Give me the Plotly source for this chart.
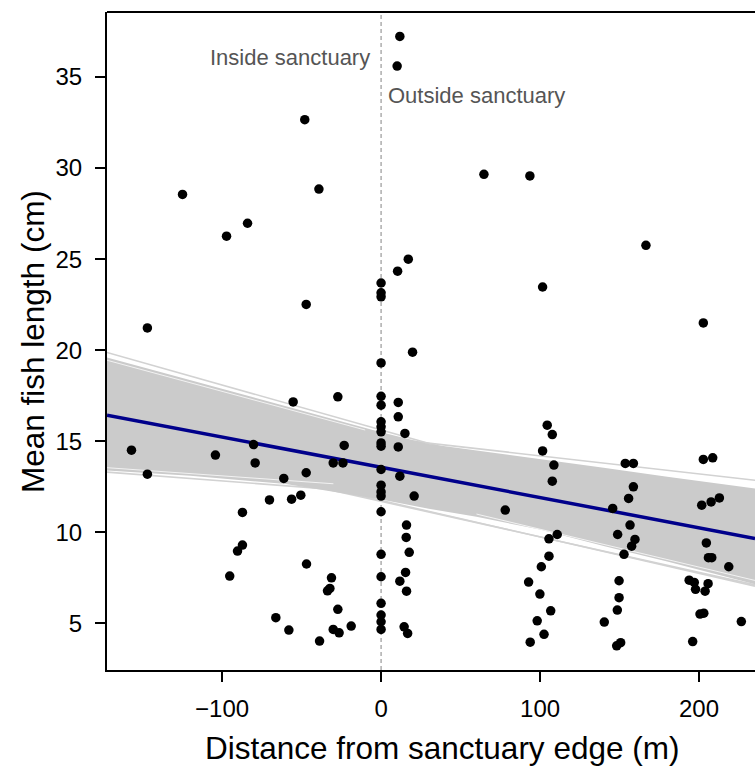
import plotly.graph_objects as go
import numpy as np

# ---------------- data ----------------
dist_m = [
    -124.9, -48.0, -39.1, -84.0, -97.2, -47.1, -147.0, -55.3, -27.2, -157.0,
    -104.2, -80.2, -79.2, -23.2, -30.1, -24.0, -47.1, -147.0, -61.2, -50.5,
    -56.3, -70.2, -87.2, -87.2, -90.3, -46.9, -95.2, -31.2, -32.2, -33.7,
    -27.2, -66.2, -58.0, -30.1, -26.4, -18.8, -38.7,
    0, 0, 0, 0, 0, 0, 0, 0, 0, 0, 0, 0, 0, 0, 0, 0, 0, 0, 0, 0, 0, 0,
    11.8, 10.1, 17.1, 10.4, 19.8, 10.8, 10.8, 15.0, 10.8, 11.8,
    20.8, 16.0, 15.8, 17.7, 15.4, 11.8, 16.0, 14.5, 16.7,
    64.7, 93.6, 101.6, 104.5, 107.7, 101.6, 108.7, 107.7, 78.1, 110.8,
    105.6, 105.6, 100.8, 92.8, 99.9, 106.7, 98.2, 102.5, 93.8,
    166.6, 153.6, 158.7, 158.7, 155.7, 145.7, 156.6, 148.8, 159.7, 157.6,
    152.8, 149.7, 149.7, 148.6, 140.4, 148.2, 150.7,
    202.7, 202.7, 208.6, 201.7, 207.6, 212.8, 204.6, 205.9, 208.0, 218.7,
    193.8, 197.0, 205.7, 197.8, 203.8, 200.6, 203.0, 196.0, 226.6,
]
fish_len_cm = [
    28.55, 32.66, 28.85, 26.97, 26.26, 22.51, 21.22, 17.16, 17.44, 14.51,
    14.24, 14.82, 13.81, 14.77, 13.81, 13.81, 13.27, 13.19, 12.96, 12.04,
    11.82, 11.78, 11.09, 9.30, 8.97, 8.26, 7.60, 7.50, 6.92, 6.79,
    5.77, 5.31, 4.63, 4.67, 4.48, 4.85, 4.03,
    23.69, 23.15, 22.93, 19.30, 17.47, 16.98, 16.07, 15.79, 15.52, 14.91,
    14.73, 13.45, 12.59, 12.22, 11.99, 11.13, 8.79, 7.56, 6.10, 5.46, 5.09, 4.67,
    37.23, 35.60, 25.00, 24.34, 19.89, 17.13, 16.34, 15.43, 14.69, 13.08,
    11.99, 10.40, 9.72, 8.90, 7.80, 7.32, 6.77, 4.81, 4.45,
    29.66, 29.57, 23.47, 15.88, 15.37, 14.47, 13.69, 12.81, 11.22, 9.88,
    9.64, 8.69, 8.11, 7.27, 6.61, 5.69, 5.14, 4.40, 3.97,
    25.76, 13.78, 13.78, 12.50, 11.86, 11.31, 10.40, 9.88, 9.61, 9.24,
    8.79, 7.34, 6.41, 5.73, 5.07, 3.77, 3.94,
    21.50, 14.00, 14.09, 11.49, 11.67, 11.89, 9.42, 8.61, 8.61, 8.11,
    7.37, 7.25, 7.18, 6.87, 6.77, 5.51, 5.56, 4.00, 5.10,
]

# fitted regression line
fit_intercept = 13.57
fit_slope = -0.0166

# bootstrap confidence band envelope
band_x = [-172.4, -120, -60, 0, 30, 60, 100, 140, 180, 235.2]
band_upper = [19.6, 18.35, 16.95, 15.5, 14.85, 14.5, 14.05, 13.55, 13.05, 12.4]
band_lower = [13.4, 13.1, 12.65, 11.8, 11.3, 10.85, 10.15, 9.25, 8.4, 7.15]

# a few individual bootstrap lines visible beyond the envelope
boot_intercepts = [15.19, 15.62, 11.75, 12.15, 11.70]
boot_slopes = [-0.0099, -0.0247, -0.0200, -0.0067, -0.0195]

# thin light gaps between bootstrap lines near the band edges
gap_x_start = [-172.4, -172.4, 60]
gap_x_end = [-10, -30, 235.2]
gap_intercepts = [15.38, 12.48, 12.25]
gap_slopes = [-0.0236, -0.0062, -0.0208]

x_range = [-172.4, 235.2]
y_range = [2.44, 38.57]
x_ticks = [-100, 0, 100, 200]
y_ticks = [5, 10, 15, 20, 25, 30, 35]
sanctuary_edge = 0

FONT = "Liberation Sans, Arial, Helvetica, sans-serif"

fig = go.Figure()

xr = np.array(x_range)
for a, b in zip(boot_intercepts, boot_slopes):
    fig.add_trace(go.Scatter(x=xr, y=a + b * xr, mode="lines",
                             line=dict(color="#d2d2d2", width=1.6),
                             hoverinfo="skip", showlegend=False))

fig.add_trace(go.Scatter(
    x=band_x + band_x[::-1], y=band_upper + band_lower[::-1],
    fill="toself", fillcolor="#cbcbcb", mode="lines",
    line=dict(width=0, color="#cbcbcb"), hoverinfo="skip", showlegend=False))

for x0, x1, a, b in zip(gap_x_start, gap_x_end, gap_intercepts, gap_slopes):
    gx = np.array([x0, x1])
    fig.add_trace(go.Scatter(x=gx, y=a + b * gx, mode="lines",
                             line=dict(color="#f2f2f2", width=1),
                             hoverinfo="skip", showlegend=False))

fig.add_trace(go.Scatter(x=xr, y=fit_intercept + fit_slope * xr, mode="lines",
                         line=dict(color="#00008b", width=3.5),
                         showlegend=False))

fig.add_trace(go.Scatter(x=dist_m, y=fish_len_cm, mode="markers",
                         marker=dict(color="black", size=9.5, line=dict(width=0)),
                         showlegend=False))

# dashed sanctuary edge line
fig.add_shape(type="line", xref="x", yref="paper", x0=sanctuary_edge, x1=sanctuary_edge,
              y0=0, y1=1, line=dict(color="#999999", width=1.2, dash="4px,3px"),
              layer="below")
# top frame line
fig.add_shape(type="line", xref="paper", yref="paper", x0=0, x1=1, y0=1, y1=1,
              line=dict(color="black", width=2))

fig.add_annotation(x=sanctuary_edge, y=36.05, xref="x", yref="y", text="Inside sanctuary",
                   showarrow=False, xanchor="right", xshift=-9,
                   font=dict(family=FONT, size=22, color="#555555"))
fig.add_annotation(x=sanctuary_edge, y=34.0, xref="x", yref="y", text="Outside sanctuary",
                   showarrow=False, xanchor="left", xshift=5,
                   font=dict(family=FONT, size=22, color="#555555"))

W, H = 755, 774
ml, mt, mr, mb = 107, 12, 0, 104
pw = W - ml - mr
ph = H - mt - mb

fig.add_annotation(xref="paper", yref="paper", x=(441.5 - ml) / pw, y=-(748 - (H - mb)) / ph,
                   text="Distance from sanctuary edge (m)", showarrow=False,
                   xanchor="center", yanchor="middle",
                   font=dict(family=FONT, size=31.5, color="black"))
fig.add_annotation(xref="paper", yref="paper", x=-(ml - 33) / pw, y=(H - mb - 342) / ph,
                   text="Mean fish length (cm)", showarrow=False, textangle=-90,
                   xanchor="center", yanchor="middle",
                   font=dict(family=FONT, size=31.5, color="black"))

fig.update_layout(
    width=W, height=H,
    margin=dict(l=ml, r=mr, t=mt, b=mb, pad=0),
    paper_bgcolor="white", plot_bgcolor="white",
    showlegend=False,
    xaxis=dict(range=x_range, tickvals=x_ticks, ticks="outside", ticklen=10,
               tickwidth=2, tickcolor="black", showline=True, linecolor="black",
               linewidth=2, showgrid=False, zeroline=False,
               tickfont=dict(family=FONT, size=24, color="black"),
               ticklabelstandoff=6),
    yaxis=dict(range=y_range, tickvals=y_ticks, ticks="outside", ticklen=10,
               tickwidth=2, tickcolor="black", showline=True, linecolor="black",
               linewidth=2, showgrid=False, zeroline=False,
               tickfont=dict(family=FONT, size=24, color="black"),
               ticklabelstandoff=8),
)

fig.write_html("out.html")
